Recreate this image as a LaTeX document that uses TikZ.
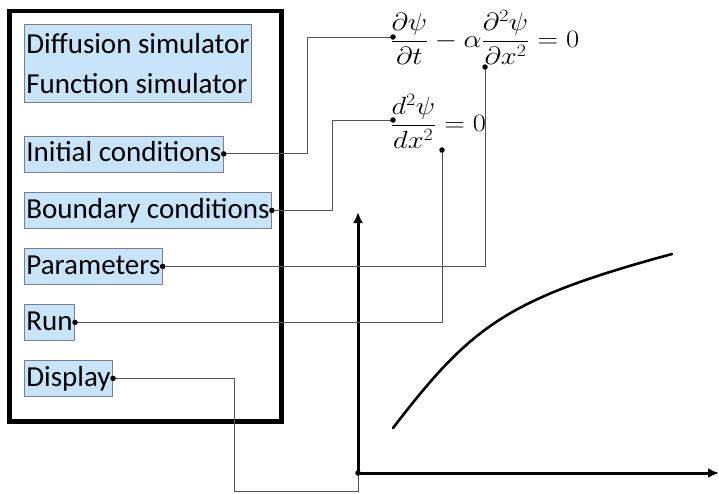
\documentclass[tikz,border=0pt]{standalone}
\usepackage{fontspec}
\usepackage{graphicx}
\newfontfamily\calib{Carlito}
\usetikzlibrary{arrows.meta}
\definecolor{boxfill}{RGB}{200,228,250}
\definecolor{boxline}{RGB}{120,128,138}
\definecolor{connc}{RGB}{85,85,85}
\begin{document}
\begin{tikzpicture}[x=1pt,y=-1pt,
  lbl/.style={draw=boxline, fill=boxfill, line width=0.8pt, anchor=north west,
    font=\calib\fontsize{29}{40}\selectfont, inner xsep=2pt, inner ysep=0pt,
    minimum height=36pt, text height=21pt, text depth=5pt},
  lbltwo/.style={draw=boxline, fill=boxfill, line width=0.8pt, anchor=north west,
    font=\calib\fontsize{29}{40}\selectfont, inner xsep=2pt, inner ysep=0pt,
    minimum height=78pt, align=left},
  conn/.style={draw=connc, line width=1pt},
  dotc/.style={circle, fill=black, inner sep=0pt, minimum size=5.5pt},
  eqn/.style={inner sep=0pt, anchor=base west, font=\fontsize{25}{30}\selectfont},
  axisline/.style={line width=3pt, -{Latex[length=11pt,width=10pt]}},
]
\useasboundingbox (0,0) rectangle (719,493);

% outer frame
\draw[line width=4.5pt] (9.5,11) rectangle (281.5,421.5);

% labelled boxes
\node[lbltwo] (sim) at (24,24) {Diffusion simulator\\Function simulator};
\node[lbl] (ini) at (24,135.5) {Initial conditions};
\node[lbl] (bnd) at (24,192) {Boundary conditions};
\node[lbl] (par) at (24,248) {Parameters};
\node[lbl] (run) at (24,304) {Run};
\node[lbl] (dis) at (24,360) {Display};

% equations
\node[eqn] (eqa) at (390,47) {\scalebox{1.15}[1]{$\displaystyle \frac{\partial\psi}{\partial t}-\alpha\frac{\partial^2\psi}{\partial x^2}=0$}};
\node[eqn] (eqb) at (390,131) {\scalebox{1.15}[1]{$\displaystyle \frac{d^2\psi}{dx^2}=0$}};

\coordinate (e1a) at (393,37);
\coordinate (e1b) at (485,67);
\coordinate (e2a) at (393,120);
\coordinate (e2b) at (442,150);

% axes
\coordinate (O) at (358,473);
\coordinate (ytip) at (358,212);
\coordinate (xtip) at (719,473);
\coordinate (dd) at (234,491.5);
\draw[axisline] (O) -- (ytip);
\draw[axisline] (O) -- (xtip);

% curve
\draw[line width=2.6pt, line cap=round] (393,428) .. controls (472,325) and (508,298.5) .. (672,254);

% connectors
\draw[conn] (ini.east) -| ([xshift=-86pt]e1a) -- (e1a);
\draw[conn] (bnd.east) -| ([xshift=-61pt]e2a) -- (e2a);
\draw[conn] (par.east) -| (e1b);
\draw[conn] (run.east) -| (e2b);
\draw[conn] (dis.east) -| (dd) -| (O);

% dots
\foreach \p in {ini.east, bnd.east, par.east, run.east, dis.east, e1a, e1b, e2a, e2b, O}
  \node[dotc] at (\p) {};
\end{tikzpicture}
\end{document}
